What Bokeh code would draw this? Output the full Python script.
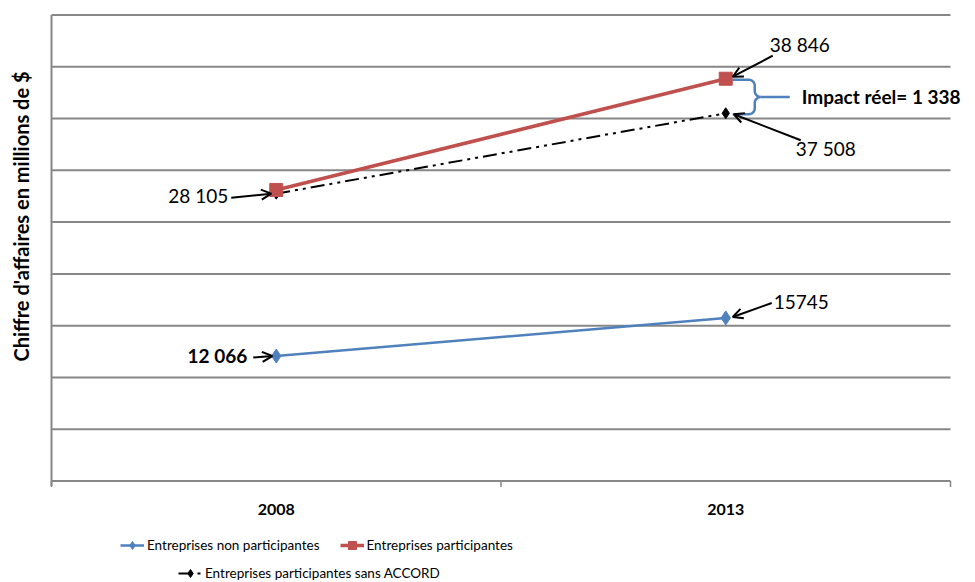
import numpy as np
from bokeh.plotting import figure
from bokeh.models import Range1d, Legend, LegendItem, Label, Arrow, OpenHead
from bokeh.embed import file_html
from bokeh.resources import INLINE

# --- data -------------------------------------------------------------
years = ["2008", "2013"]
non_participantes = [12066, 15745]
participantes = [28105, 38846]
sans_accord = [28105, 37508]
impact_reel = participantes[1] - sans_accord[1]   # 1 338

xpos = [0.5, 1.5]          # category centres; category bounds are 0, 1, 2
x_bounds = [0, 1, 2]
Y_MAX = 45000
Y_STEP = 5000
grid_values = list(range(0, Y_MAX + 1, Y_STEP))
# the "sans ACCORD" series sits on its own hidden value scale
Y2_START, Y2_END = -5500, 49000

BLUE = "#4F81BD"
RED = "#C0504D"
GRID = "#878787"
FONT = "Lato"

# canvas and plotting-area geometry (pixels)
W, H = 975, 582
AREA_L, AREA_R = 51, 950
AREA_T, AREA_B = 14.5, 480.5
PXX = (AREA_R - AREA_L) / 2.0
PXY = (AREA_B - AREA_T) / Y_MAX
PXY2 = (AREA_B - AREA_T) / (Y2_END - Y2_START)


def fr(v):
    """French thousands separator."""
    return f"{v:,}".replace(",", " ")


def to_px_x(xd):
    return AREA_L + xd * PXX


def to_px_y(yd):
    return AREA_B - yd * PXY


def to_px_y2(yd):
    return AREA_B - (yd - Y2_START) * PXY2


def from_px_x(px):
    return (px - AREA_L) / PXX


def from_px_y(py):
    return (AREA_B - py) / PXY


# the frame covers the whole canvas; axes are drawn by hand so that titles,
# year labels and legends can live outside the plotting area
p = figure(width=W, height=H, output_backend="svg", toolbar_location=None,
           x_range=Range1d(from_px_x(0), from_px_x(W)),
           y_range=Range1d(from_px_y(H), from_px_y(0)),
           x_axis_location=None, y_axis_location=None,
           min_border=0, outline_line_color=None,
           background_fill_color="white", border_fill_color="white")
p.extra_y_ranges = {"y2": Range1d(Y2_START - (H - AREA_B) / PXY2,
                                  Y2_START + AREA_B / PXY2)}
p.grid.visible = False

# horizontal grid lines (the one at 0 is the category axis)
p.segment(x0=[x_bounds[0]] * len(grid_values), x1=[x_bounds[-1]] * len(grid_values),
          y0=grid_values, y1=grid_values, color=GRID, line_width=2)
# value axis line
p.segment(x0=[0], x1=[0], y0=[-5 / PXY], y1=[Y_MAX], color=GRID, line_width=2)
# category boundary ticks
p.segment(x0=x_bounds, x1=x_bounds, y0=[0] * 3, y1=[-6 / PXY] * 3,
          color=GRID, line_width=1.5)

# year labels under each category
for xv, yr in zip(xpos, years):
    p.add_layout(Label(x=xv, y=0, y_offset=-28, text=yr, text_font=FONT,
                       text_font_size="16px", text_font_style="bold",
                       text_align="center", text_baseline="middle",
                       text_color="black"))

# rotated value-axis title
p.add_layout(Label(x=from_px_x(20), y=from_px_y(216),
                   text="Chiffre d'affaires en millions de $", angle=np.pi / 2,
                   text_font=FONT, text_font_size="20px", text_font_style="bold",
                   text_align="center", text_baseline="middle",
                   text_color="black"))

# --- series -------------------------------------------------------------
l_sa = p.line(xpos, sans_accord, color="black", line_width=2,
              line_dash="14 5 3 5 3 5", y_range_name="y2")
m_sa = p.scatter(xpos, sans_accord, marker="diamond", size=11, color="black",
                 y_range_name="y2")
l_np = p.line(xpos, non_participantes, color=BLUE, line_width=2.5)
m_np = p.scatter(xpos, non_participantes, marker="diamond", size=14, color=BLUE)
l_p = p.line(xpos, participantes, color=RED, line_width=3.5)
m_p = p.scatter(xpos, participantes, marker="square", size=13, color=RED)

# --- brace showing the real impact ------------------------------------
xb = to_px_x(xpos[1]) + 7
yt = to_px_y(participantes[1]) + 1
yb = to_px_y2(sans_accord[1]) + 1
ym = (yt + yb) / 2
r = 6


def arc(cx, cy, a0, a1, n=8):
    a = np.radians(np.linspace(a0, a1, n))
    return list(cx + r * np.cos(a)), list(cy + r * np.sin(a))


bx, by = [xb], [yt]
for seg in (arc(xb + 16, yt + r, -90, 0), arc(xb + 28, ym - r, 180, 90),
            arc(xb + 28, ym + r, -90, -180), arc(xb + 16, yb - r, 0, 90)):
    bx += seg[0]
    by += seg[1]
bx.append(xb)
by.append(yb)
p.line([from_px_x(v) for v in bx], [from_px_y(v) for v in by],
       color=BLUE, line_width=2.5)
p.line([from_px_x(xb + 28), from_px_x(xb + 57)], [from_px_y(ym)] * 2,
       color=BLUE, line_width=2.5)

# --- callouts -----------------------------------------------------------


def callout(xd, yd, text, tx, ty, align, ax0, ay0, ax1, ay1, bold=False,
            y2=False, size="19px"):
    kw = {"y_range_name": "y2"} if y2 else {}
    sy = PXY2 if y2 else PXY
    p.add_layout(Label(x=xd, y=yd, x_offset=tx, y_offset=ty, text=text,
                       text_font=FONT, text_font_size=size,
                       text_font_style="bold" if bold else "normal",
                       text_align=align, text_baseline="middle",
                       text_color="black", **kw))
    p.add_layout(Arrow(x_start=xd + ax0 / PXX, y_start=yd + ay0 / sy,
                       x_end=xd + ax1 / PXX, y_end=yd + ay1 / sy,
                       line_color="black", line_width=2,
                       end=OpenHead(size=10, line_width=2, line_color="black"),
                       **kw))


callout(xpos[0], sans_accord[0], fr(sans_accord[0]), -48, -2, "right",
        -45, -4, -5, 0, y2=True)
callout(xpos[1], sans_accord[1], fr(sans_accord[1]), 70, -35, "left",
        75, -27, 8, -1, y2=True)
callout(xpos[1], participantes[1], fr(participantes[1]), 74, 34, "center",
        47, 23, 7, 2)
callout(xpos[0], non_participantes[0], fr(non_participantes[0]), -29, 1, "right",
        -23, -1.5, -4, 0, bold=True)
callout(xpos[1], non_participantes[1], str(non_participantes[1]), 48, 16, "left",
        46, 15, 7, 1)

p.add_layout(Label(x=xpos[1], y=participantes[1], x_offset=76, y_offset=-18,
                   text=f"Impact réel= {fr(impact_reel)}", text_font=FONT,
                   text_font_size="19px", text_font_style="bold",
                   text_baseline="middle", text_color="black"))

# --- legends ----------------------------------------------------------------
leg_kw = dict(orientation="horizontal", border_line_color=None,
              background_fill_alpha=0, label_text_font=FONT,
              label_text_font_size="13.5px", label_text_color="black",
              glyph_width=24, glyph_height=20, label_height=20,
              label_standoff=3, spacing=20, padding=0, margin=0)
leg1 = Legend(items=[LegendItem(label="Entreprises non participantes",
                                renderers=[l_np, m_np]),
                     LegendItem(label="Entreprises participantes",
                                renderers=[l_p, m_p])],
              location=(120, 27), **leg_kw)
leg2 = Legend(items=[LegendItem(label="Entreprises participantes sans ACCORD",
                                renderers=[l_sa, m_sa])],
              location=(178, -1), **leg_kw)
p.add_layout(leg1)
p.add_layout(leg2)

open("out.html", "w").write(file_html(p, INLINE))
